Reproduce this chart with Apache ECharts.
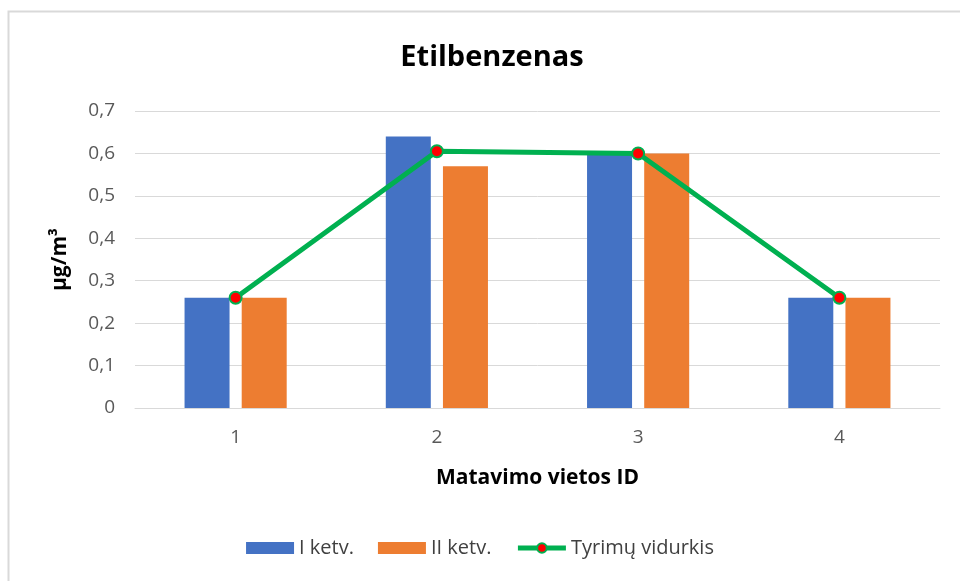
<!DOCTYPE html>
<html>
<head>
<meta charset="utf-8">
<script src="https://cdn.jsdelivr.net/npm/echarts@6/dist/echarts.min.js"></script>
<style>
html, body { margin: 0; padding: 0; background: #fff; }
#main { width: 960px; height: 581px; }
</style>
</head>
<body>
<div id="main"></div>
<script>
// duomenys
var categories = ['1', '2', '3', '4'];
var ketv1 = [0.26, 0.64, 0.60, 0.26];
var ketv2 = [0.26, 0.57, 0.60, 0.26];
var vidurkis = [0.26, 0.605, 0.60, 0.26];
var seriesNames = ['I ketv.', 'II ketv.', 'Tyrimų vidurkis'];

var chart = document.getElementById('main');
var echart = echarts.init(chart);

var font = '"Open Sans", "DejaVu Sans", sans-serif';

var option = {
    animation: false,
    backgroundColor: '#fff',
    textStyle: { fontFamily: font },
    graphic: [
        {
            type: 'rect',
            shape: { x: 8.5, y: 11.5, width: 980, height: 600 },
            style: { fill: 'none', stroke: '#d9d9d9', lineWidth: 2 },
            silent: true
        }
    ],
    title: {
        text: 'Etilbenzenas',
        left: 487,
        textAlign: 'center',
        top: 38,
        textStyle: { fontSize: 29, fontWeight: 'bold', color: '#000', fontFamily: font }
    },
    legend: {
        data: [
            { name: seriesNames[0], icon: 'rect' },
            { name: seriesNames[1], icon: 'rect' },
            { name: seriesNames[2], lineStyle: { width: 5 } }
        ],
        bottom: 18,
        left: 'center',
        itemGap: 24,
        itemWidth: 48,
        itemHeight: 12,
        textStyle: { fontSize: 20, color: '#404040', fontFamily: font }
    },
    grid: {
        left: 135,
        right: 20,
        top: 111,
        bottom: 173
    },
    xAxis: {
        type: 'category',
        data: categories,
        name: 'Matavimo vietos ID',
        nameLocation: 'middle',
        nameGap: 60,
        nameTextStyle: { fontSize: 21, fontWeight: 'bold', color: '#000' },
        axisLine: { lineStyle: { color: '#d9d9d9', width: 1 } },
        axisTick: { show: false },
        axisLabel: { fontSize: 19, color: '#595959', margin: 20 }
    },
    yAxis: {
        type: 'value',
        min: 0,
        max: 0.7,
        interval: 0.1,
        name: 'µg/m³',
        nameLocation: 'middle',
        nameGap: 64,
        nameTextStyle: { fontSize: 21, fontWeight: 'bold', color: '#000' },
        axisLine: { show: false },
        axisTick: { show: false },
        splitLine: { lineStyle: { color: '#d9d9d9', width: 1 } },
        axisLabel: {
            fontSize: 19,
            color: '#595959',
            margin: 20,
            formatter: function (v) {
                return String(Math.round(v * 10) / 10).replace('.', ',');
            }
        }
    },
    series: [
        {
            name: seriesNames[0],
            type: 'bar',
            data: ketv1,
            barWidth: 45,
            barGap: '27%',
            itemStyle: { color: '#4472c4' }
        },
        {
            name: seriesNames[1],
            type: 'bar',
            data: ketv2,
            barWidth: 45,
            itemStyle: { color: '#ed7d31' }
        },
        {
            name: seriesNames[2],
            type: 'line',
            data: vidurkis,
            symbol: 'circle',
            symbolSize: 12,
            lineStyle: { color: '#00b050', width: 5 },
            itemStyle: { color: '#ff0000', borderColor: '#00b050', borderWidth: 2 },
            z: 5
        }
    ]
};
echart.setOption(option);
</script>
</body>
</html>
